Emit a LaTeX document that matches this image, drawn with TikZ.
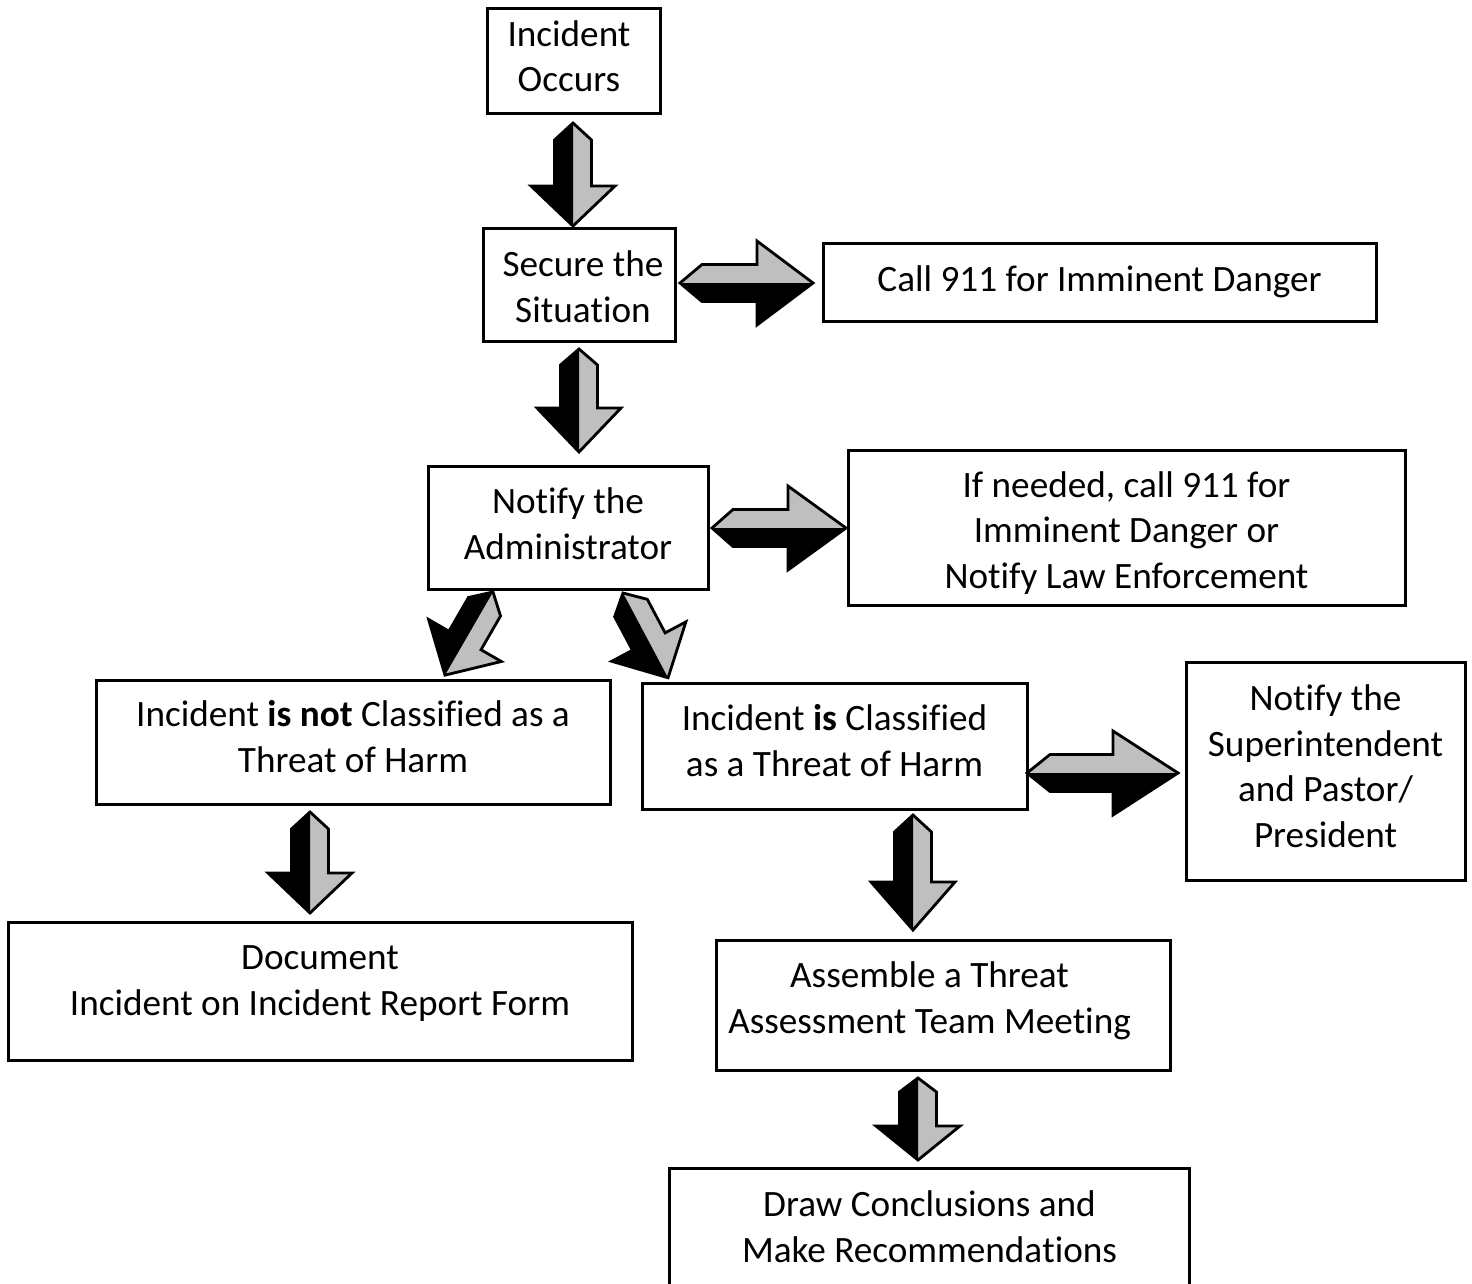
\documentclass[tikz,border=0pt]{standalone}
\usepackage{fontspec}
\setmainfont{Carlito}[Ligatures={NoCommon,NoContextual}]
\usetikzlibrary{fit}
\definecolor{arrgray}{gray}{0.75}
\newcommand\nlg{\kern0pt}
\begin{document}
\begin{tikzpicture}[x=0.5pt,y=-0.5pt,
  box/.style={draw, line width=1.5pt, inner sep=0pt},
  txt/.style={align=center, inner sep=0pt, anchor=base, font=\fontsize{18.6pt}{22.75pt}\selectfont},
  pics/splitarrow/.style n args={3}{code={
    \fill[arrgray] (0,0) -- (#3,-18.5) -- ({#1-#2},-18.5) -- ({#1-#2},-42) -- (#1,0) -- cycle;
    \fill[black] (0,0) -- (#3,18.5) -- ({#1-#2},18.5) -- ({#1-#2},42) -- (#1,0) -- cycle;
    \draw[line width=1.4pt, line join=miter] (0,0) -- (#3,-18.5) -- ({#1-#2},-18.5) -- ({#1-#2},-42) -- (#1,0)
      -- ({#1-#2},42) -- ({#1-#2},18.5) -- (#3,18.5) -- cycle;
  }}]
\useasboundingbox (0,0) rectangle (1472,1284);
\fill[white] (0,0) rectangle (1472,1284);

% boxes
\node[box, fit={(487,9) (660,114)}] (b1) {};
\node[box, fit={(483,228) (675,341)}] (b2) {};
\node[box, fit={(823,243) (1376,321)}] (b3) {};
\node[box, fit={(428,466) (708,589)}] (b4) {};
\node[box, fit={(848,450) (1405,605)}] (b5) {};
\node[box, fit={(96,680) (610,804)}] (b6) {};
\node[box, fit={(642,683) (1027,809)}] (b7) {};
\node[box, fit={(1186,662) (1465,880)}] (b8) {};
\node[box, fit={(8,922) (632,1060)}] (b9) {};
\node[box, fit={(716,940) (1170,1070)}] (b10) {};
\node[box, fit={(669,1168) (1189,1310)}] (b11) {};

% texts (anchor = baseline of last line)
\node[txt] (t1) at (569,92) {Incident\\Occurs};
\node[txt] (t2) at (583,322) {Secure the\\Situa\nlg tion};
\node[txt] (t3) at (1099.5,291) {Call 911 for Imminent Danger};
\node[txt] (t4) at (568,559) {Noti\nlg fy the\\Administrator};
\node[txt] (t5) at (1126.5,588) {If needed, call 911 for\\Imminent Danger or\\Noti\nlg fy Law Enforcement};
\node[txt] (t6) at (353,772) {Incident \textbf{is not} Classi\nlg fied as a\\Threat of Harm};
\node[txt] (t7) at (834.5,776) {Incident \textbf{is} Classi\nlg fied\\as a Threat of Harm};
\node[txt] (t8) at (1325.5,847) {Noti\nlg fy the\\Superintendent\\and Pastor/\\President};
\node[txt] (t9) at (320,1015) {Document\\Incident on Incident Report Form};
\node[txt] (t10) at (929.5,1033) {Assemble a Threat\\Assessment Team Meeting};
\node[txt] (t11) at (929.5,1262) {Draw Conclusions and\\Make Recommenda\nlg tions};

% split block arrows
\pic (a1) [rotate=-90] at (573,123) {splitarrow={103}{40}{17}};
\pic (a2) [rotate=-90] at (579,349) {splitarrow={103}{44}{16}};
\pic (a3) at (680,283) {splitarrow={133}{56}{22}};
\pic (a4) at (712,528) {splitarrow={134}{58}{21}};
\pic (a5) [rotate=-120] at (493,592) {splitarrow={96}{40}{17}};
\pic (a6) [rotate=-62] at (623,593) {splitarrow={96}{41}{17}};
\pic (a7) at (1027,773) {splitarrow={151}{65}{23}};
\pic (a8) [rotate=-90] at (310,812) {splitarrow={101}{40}{17}};
\pic (a9) [rotate=-90] at (913,815) {splitarrow={115}{48}{17}};
\pic (a10) [rotate=-90] at (918,1078) {splitarrow={82}{34}{14}};
\end{tikzpicture}
\end{document}
